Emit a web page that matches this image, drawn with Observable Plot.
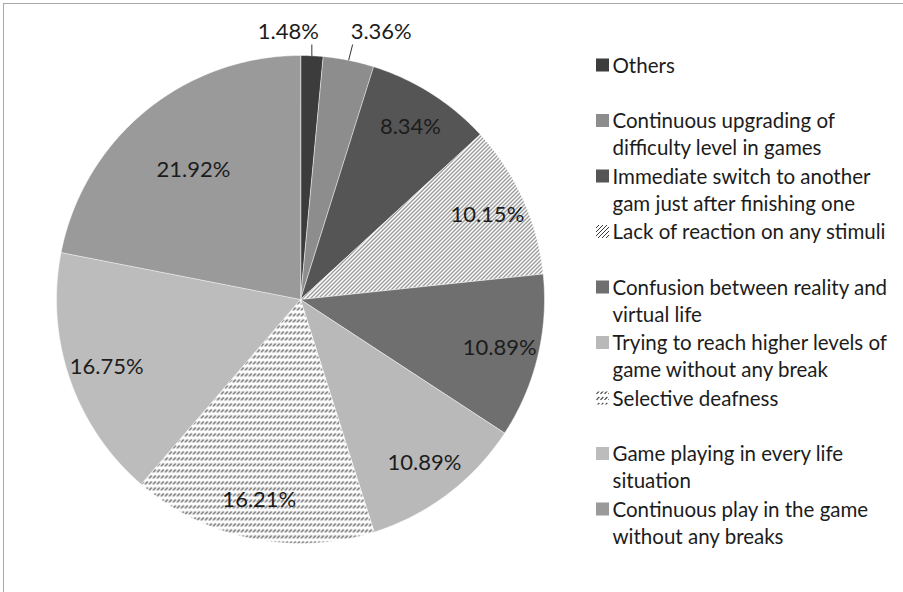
<!DOCTYPE html>
<html><head><meta charset="utf-8">
<script src="https://cdn.jsdelivr.net/npm/d3@7"></script>
<script src="https://cdn.jsdelivr.net/npm/@observablehq/plot@0.6"></script>
<style>
body{margin:0;background:#fff;}
#wrap{position:relative;width:903px;height:592px;overflow:hidden;}
#frame{position:absolute;left:3px;top:3px;right:-5px;bottom:-5px;border-top:1.5px solid #a9a9a9;border-left:1.5px solid #a9a9a9;pointer-events:none;}
</style></head><body><div id="wrap"><div id="chart"></div><div id="frame"></div></div>
<script>
// ---- data ----
const categories = [
  "Others",
  "Continuous upgrading of\ndifficulty level in games",
  "Immediate switch to another\ngam just after finishing one",
  "Lack of reaction on any stimuli",
  "Confusion between reality and\nvirtual life",
  "Trying to reach higher levels of\ngame without any break",
  "Selective deafness",
  "Game playing in every life\nsituation",
  "Continuous play in the game\nwithout any breaks"
];
const values = [1.48, 3.36, 8.34, 10.15, 10.89, 10.89, 16.21, 16.75, 21.92];
const valueLabels = ["1.48%", "3.36%", "8.34%", "10.15%", "10.89%", "10.89%", "16.21%", "16.75%", "21.92%"];

// ---- styles ----
const palette = ["#3c3c3c", "#8d8d8d", "#555555", "url(#hatchUp)", "#6f6f6f", "#b9b9b9", "url(#dashUp)", "#bcbcbc", "#9a9a9a"];
const W = 903, H = 592, cx = 300, cy = 299, R = 244;
const font = "Lato, 'Open Sans', sans-serif";
const textColor = "#1c1c1c";

// ---- geometry from data ----
const arcs = d3.pie().sort(null).value(d => d)(values);
const slices = arcs.map((a, i) => ({i, start: a.startAngle, end: a.endAngle, mid: (a.startAngle + a.endAngle) / 2}));
const polar = (a, r) => ({x: cx + r * Math.sin(a), y: cy - r * Math.cos(a)});
const poly = slices.flatMap(s => {
  const n = Math.max(4, Math.ceil((s.end - s.start) / 0.005));
  const pts = [{k: s.i, ...polar(0, 0)}];
  for (let j = 0; j <= n; j++) pts.push({k: s.i, ...polar(s.start + (s.end - s.start) * j / n, R)});
  return pts;
});
const inside = slices.filter(s => values[s.i] >= 5).map(s => ({i: s.i, ...polar(s.mid, R * (values[s.i] > 20 ? 0.69 : 0.84))}));
const small = slices.filter(s => values[s.i] < 5).map((s, j) => {
  const e = polar(s.mid, R);
  const left = j % 2 === 0;
  return {i: s.i, ex: e.x, ey: e.y, lx: e.x + (left ? 0 : 4), ly: cy - R * 1.045, tx: e.x + (left ? 7 : 2), ty: cy - R * 1.095, left};
});
const legend = categories.map((c, i) => ({i, c, y: 65 + i * 55.5}));

const plot = Plot.plot({
  width: W, height: H,
  marginTop: 0, marginRight: 0, marginBottom: 0, marginLeft: 0,
  x: {domain: [0, W], range: [0, W], axis: null},
  y: {domain: [0, H], range: [0, H], axis: null},
  color: {type: "identity"},
  style: {fontFamily: font, background: "transparent"},
  marks: [
    Plot.line(poly, {x: "x", y: "y", z: "k", fill: d => palette[d.k], stroke: "#ffffff", strokeWidth: 0.5, curve: "linear-closed"}),
    Plot.text(inside, {x: "x", y: "y", text: d => valueLabels[d.i], fontSize: 22, fill: textColor}),
    Plot.link(small, {x1: "ex", y1: "ey", x2: "lx", y2: "ly", stroke: "#333", strokeWidth: 1}),
    Plot.text(small.filter(d => d.left), {x: "tx", y: "ty", text: d => valueLabels[d.i], textAnchor: "end", fontSize: 22, fill: textColor}),
    Plot.text(small.filter(d => !d.left), {x: "tx", y: "ty", text: d => valueLabels[d.i], textAnchor: "start", fontSize: 22, fill: textColor}),
    Plot.rect(legend, {x1: 596, x2: 609, y1: d => d.y - 6.5, y2: d => d.y + 6.5, fill: d => palette[d.i]}),
    Plot.text(legend, {x: 612, y: d => d.y - 12, text: "c", textAnchor: "start", lineAnchor: "top", fontSize: 20.5, lineHeight: 27 / 20.5, fill: textColor})
  ]
});

const svg = d3.select(plot);
const defs = svg.insert("defs", ":first-child");
const h = defs.append("pattern").attr("id", "hatchUp").attr("patternUnits", "userSpaceOnUse").attr("width", 4).attr("height", 4);
h.append("rect").attr("width", 4).attr("height", 4).attr("fill", "#fff");
h.append("path").attr("d", "M-1,1 l2,-2 M0,4 l4,-4 M3,5 l2,-2").attr("stroke", "#3a3a3a").attr("stroke-width", 1);
const p = defs.append("pattern").attr("id", "dashUp").attr("patternUnits", "userSpaceOnUse").attr("width", 4).attr("height", 6);
p.append("rect").attr("width", 4).attr("height", 6).attr("fill", "#fff");
p.append("path").attr("d", "M0.5,3.8 L3.3,1").attr("stroke", "#444").attr("stroke-width", 1.2);

document.getElementById("chart").appendChild(plot);
</script>
</body></html>
